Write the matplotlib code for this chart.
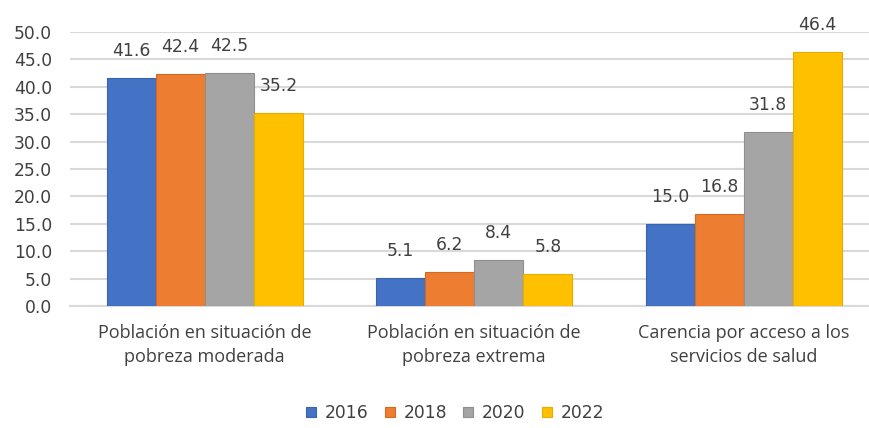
import matplotlib
matplotlib.use("Agg")
import matplotlib.pyplot as plt
import numpy as np

categories = ["Población en situación de\npobreza moderada",
              "Población en situación de\npobreza extrema",
              "Carencia por acceso a los\nservicios de salud"]
years = ["2016", "2018", "2020", "2022"]
v2016 = [41.6, 5.1, 15.0]
v2018 = [42.4, 6.2, 16.8]
v2020 = [42.5, 8.4, 31.8]
v2022 = [35.2, 5.8, 46.4]
series = [v2016, v2018, v2020, v2022]
colors = ["#4472C4", "#ED7D31", "#A5A5A5", "#FFC000"]
edges = ["#3A62AD", "#D06A25", "#8F8F8F", "#E6AD00"]
yticks = np.arange(0, 50.1, 5)

num_font = dict(family=['DejaVu Sans'], size=12.3)
txt_color = "#404040"

fig = plt.figure(figsize=(8.69, 4.28), dpi=100)
W, H = 869, 428
left, right = 70, 869
bottom, top = 306, 32
ax = fig.add_axes([left / W, 1 - bottom / H, (right - left) / W, (bottom - top) / H])

x = np.arange(len(categories))
bw = 0.182
for i, (vals, c, ec, yr) in enumerate(zip(series, colors, edges, years)):
    pos = x + (i - 1.5) * bw
    bars = ax.bar(pos, vals, width=bw, color=c, edgecolor=ec, linewidth=0.8,
                  label=yr, zorder=3)
    ax.bar_label(bars, labels=[f"{v:.1f}" for v in vals], padding=13,
                 color=txt_color, **num_font)

ax.set_ylim(0, 50)
spacing = 269.5
ax.set_xlim(-0.5, -0.5 + (right - left) / spacing)
ax.set_yticks(yticks)
ax.set_yticklabels([f"{t:.1f}" for t in yticks], color=txt_color, **num_font)
ax.yaxis.grid(True, color="#D9D9D9", linewidth=1.5, zorder=0)
ax.set_xticks(x)
ax.set_xticklabels(categories, fontsize=13, family=['Open Sans', 'DejaVu Sans'],
                   color=txt_color, linespacing=1.45)
ax.tick_params(axis='both', length=0)
ax.tick_params(axis='x', pad=13)
ax.tick_params(axis='y', pad=13)
for s in ["top", "right", "left"]:
    ax.spines[s].set_visible(False)
ax.spines["bottom"].set_color("#D9D9D9")
ax.spines["bottom"].set_linewidth(1.5)

fig.legend(loc="center", bbox_to_anchor=(455 / W, 1 - 413 / H), ncol=4,
           frameon=False, prop=dict(family='DejaVu Sans', size=12.3),
           handlelength=0.6, handleheight=0.6,
           handletextpad=0.5, columnspacing=0.95, labelcolor=txt_color)

fig.savefig("out.png", dpi=100)
